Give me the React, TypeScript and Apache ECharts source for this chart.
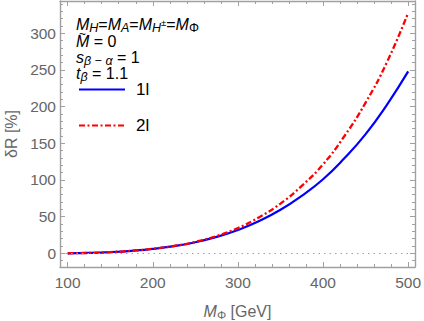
import React, { useEffect, useRef } from "react";
import * as echarts from "echarts";

const mPhi = [100, 125, 150, 175, 200, 225, 250, 275, 300, 325, 350, 375, 400, 425, 450, 475, 500];
const oneLoop = [0, 0.5, 1.6, 3.4, 6.0, 9.8, 15.1, 22.3, 31.8, 44.0, 59.3, 78.4, 101, 129.5, 162.5, 202.5, 248];
const twoLoop = [0, 0.5, 1.6, 3.4, 6.1, 10.0, 15.6, 23.6, 34.5, 49.2, 67.8, 92.0, 121.3, 159.6, 205.5, 260.5, 328];
const seriesNames = ["1l", "2l"];

const xMajorTicks = [100, 200, 300, 400, 500];
const xMinorTicks = [120, 140, 160, 180, 220, 240, 260, 280, 320, 340, 360, 380, 420, 440, 460, 480];
const yMajorTicks = [0, 50, 100, 150, 200, 250, 300];
const yMinorTicks = [-10, 10, 20, 30, 40, 60, 70, 80, 90, 110, 120, 130, 140, 160, 170, 180, 190, 210, 220, 230, 240, 260, 270, 280, 290, 310, 320, 330, 340];

const X_MIN = 91;
const X_MAX = 508;
const Y_MIN = -18.7;
const Y_MAX = 344;

const FONT = "'Liberation Sans', Arial, sans-serif";
const FRAME = "#a0a0a0";
const LABEL = "#666666";

function xAxis(position: "bottom" | "top", major: boolean, withLabels: boolean) {
  return {
    type: "value",
    min: X_MIN,
    max: X_MAX,
    position,
    axisLine: { show: major, onZero: false, lineStyle: { color: FRAME, width: 1.4 } },
    axisTick: {
      show: true,
      inside: true,
      length: major ? 5 : 3,
      customValues: major ? xMajorTicks : xMinorTicks,
      lineStyle: { color: FRAME, width: 1 },
    },
    axisLabel: withLabels
      ? { show: true, customValues: xMajorTicks, color: LABEL, fontSize: 15.5, fontFamily: FONT, margin: 7 }
      : { show: false },
    splitLine: { show: false },
    ...(withLabels
      ? {
          name: "{i|M}{s|Φ}{n| [GeV]}",
          nameLocation: "middle",
          nameGap: 37,
          nameTextStyle: {
            color: LABEL,
            fontFamily: FONT,
            fontSize: 16,
            rich: {
              i: { fontStyle: "italic", fontSize: 16, color: LABEL, fontFamily: FONT, lineHeight: 14 },
              s: { fontSize: 11.5, color: LABEL, fontFamily: FONT, lineHeight: 6, padding: [8, 0, 0, 0] },
              n: { fontSize: 16, color: LABEL, fontFamily: FONT, lineHeight: 14 },
            },
          },
        }
      : {}),
  };
}

function yAxis(position: "left" | "right", major: boolean, withLabels: boolean) {
  return {
    type: "value",
    min: Y_MIN,
    max: Y_MAX,
    position,
    axisLine: { show: major, onZero: false, lineStyle: { color: FRAME, width: 1.4 } },
    axisTick: {
      show: true,
      inside: true,
      length: major ? 5 : 3,
      customValues: major ? yMajorTicks : yMinorTicks,
      lineStyle: { color: FRAME, width: 1 },
    },
    axisLabel: withLabels
      ? { show: true, customValues: yMajorTicks, color: LABEL, fontSize: 15.5, fontFamily: FONT, margin: 4 }
      : { show: false },
    splitLine: { show: false },
    ...(withLabels
      ? {
          name: "δR [%]",
          nameLocation: "middle",
          nameGap: 39,
          nameTextStyle: { color: LABEL, fontFamily: FONT, fontSize: 16 },
        }
      : {}),
  };
}

export default function App() {
  const ref = useRef<HTMLDivElement>(null);

  useEffect(() => {
    if (!ref.current) return;
    const chart = echarts.init(ref.current, null, { renderer: "svg" });
    const main = { fontSize: 16, fontFamily: FONT, color: "#000", lineHeight: 13 };
    const ital = { ...main, fontStyle: "italic" };
    const sub = { fontStyle: "italic", fontSize: 12.5, fontFamily: FONT, color: "#000", lineHeight: 6, padding: [7, 0, 0, 0] };
    const rich = {
      i: ital,
      tl: { fontSize: 12, fontFamily: FONT, color: "#000", lineHeight: 3, padding: [0, 0, 0, 3] },
      n: main,
      s: sub,
      u: { ...sub, fontStyle: "normal" },
      p: { fontSize: 9.5, fontFamily: FONT, color: "#000", lineHeight: 6, padding: [0, 0, 4, 0] },
    };

    chart.setOption({
      animation: false,
      grid: { left: 60, right: 9, top: 1, bottom: 54, containLabel: false, outerBoundsMode: "none" },
      xAxis: [xAxis("bottom", true, true), xAxis("bottom", false, false), xAxis("top", true, false), xAxis("top", false, false)],
      yAxis: [yAxis("left", true, true), yAxis("left", false, false), yAxis("right", true, false), yAxis("right", false, false)],
      legend: {
        data: seriesNames,
        orient: "vertical",
        left: 73,
        top: 76,
        padding: 5,
        itemWidth: 46,
        itemHeight: 14,
        itemGap: 19,
        selectedMode: false,
        itemStyle: { opacity: 0 },
        textStyle: { fontSize: 17, color: "#000", fontFamily: FONT, padding: [0, 0, 0, 6] },
      },
      graphic: [
        {
          type: "text",
          left: 76,
          top: 14,
          style: { text: "{i|M}{s|H}{n|=}{i|M}{s|A}{n|=}{i|M}{s|H}{p|±}{n|=}{i|M}{u|Φ}", rich },
        },
        { type: "text", left: 76, top: 27.5, style: { text: "{tl|~}\n{i|M}{n| = 0}", rich } },
        { type: "text", left: 76, top: 47, style: { text: "{i|s}{s|β − α}{n| = 1}", rich } },
        { type: "text", left: 76, top: 63, style: { text: "{i|t}{s|β}{n| = 1.1}", rich } },
      ],
      series: [
        {
          name: seriesNames[0],
          type: "line",
          xAxisIndex: 0,
          yAxisIndex: 0,
          data: mPhi.map((m, i) => [m, oneLoop[i]]),
          symbol: "none",
          smooth: true,
          lineStyle: { color: "#0000ff", width: 2.2 },
          itemStyle: { color: "#0000ff" },
          markLine: {
            silent: true,
            symbol: ["none", "none"],
            label: { show: false },
            lineStyle: { color: "#a0a0a0", width: 1, type: [1.5, 4] },
            data: [{ yAxis: 0 }],
          },
        },
        {
          name: seriesNames[1],
          type: "line",
          xAxisIndex: 0,
          yAxisIndex: 0,
          data: mPhi.map((m, i) => [m, twoLoop[i]]),
          symbol: "none",
          smooth: true,
          lineStyle: { color: "#ff0000", width: 2.3, type: [6, 2.5, 2, 2.5] },
          itemStyle: { color: "#ff0000" },
        },
      ],
    });
    return () => chart.dispose();
  }, []);

  return <div ref={ref} style={{ position: "absolute", left: 0, top: 0, width: 424, height: 321 }} />;
}
